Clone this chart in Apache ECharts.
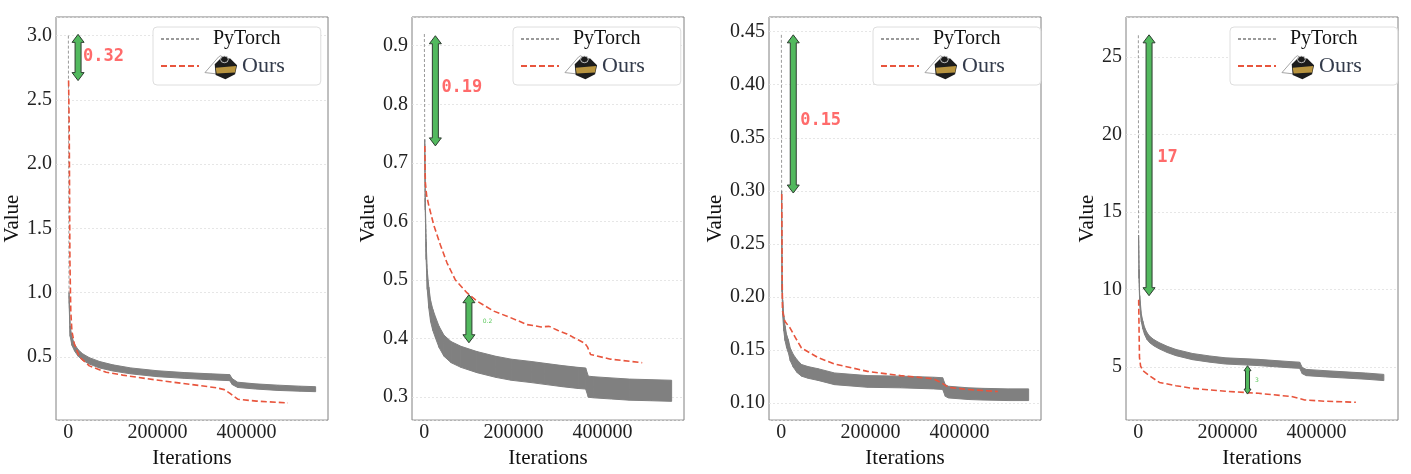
<!DOCTYPE html>
<html>
<head>
<meta charset="utf-8">
<script src="https://cdn.jsdelivr.net/npm/echarts@6/dist/echarts.min.js"></script>
</head>
<body style="margin:0;background:#fff">
<div id="main" style="width:1411px;height:474px"></div>
<script>
// ---- data ----
// panel 1
var p1x  = [0, 1500, 4000, 8000, 14000, 22000, 32000, 47000, 70000, 100000, 140000, 200000, 260000, 320000, 362000, 368000, 380000, 420000, 470000, 520000, 555000];
var p1lo = [3.0, 0.93, 0.66, 0.59, 0.545, 0.505, 0.474, 0.444, 0.414, 0.39, 0.368, 0.346, 0.333, 0.322, 0.315, 0.284, 0.262, 0.25, 0.239, 0.233, 0.229];
var p1hi = [3.0, 1.0, 0.74, 0.655, 0.598, 0.556, 0.524, 0.494, 0.464, 0.438, 0.414, 0.392, 0.378, 0.368, 0.362, 0.33, 0.303, 0.29, 0.28, 0.272, 0.268];
var o1x  = [500, 2000, 3500, 5500, 8000, 13500, 24700, 47000, 85000, 122000, 197000, 272000, 332000, 350000, 362000, 381000, 422000, 493000];
var o1y  = [2.65, 2.25, 1.25, 0.85, 0.70, 0.60, 0.50, 0.43, 0.38, 0.358, 0.32, 0.287, 0.26, 0.245, 0.218, 0.17, 0.156, 0.142];
var a1   = [[21800, 3.01, 2.65]];
var l1   = [[33000, 2.835]];
var t1   = ['0.32'];

// panel 2
var p2x  = [0, 800, 2000, 4000, 6500, 10000, 14000, 19000, 25000, 33000, 44000, 60000, 82000, 118000, 160000, 195000, 240000, 270000, 310000, 345000, 362000, 368000, 380000, 420000, 460000, 510000, 555000];
var p2lo = [0.92, 0.74, 0.62, 0.535, 0.484, 0.452, 0.429, 0.414, 0.401, 0.385, 0.37, 0.359, 0.351, 0.342, 0.334, 0.329, 0.325, 0.322, 0.318, 0.315, 0.314, 0.3, 0.299, 0.297, 0.295, 0.294, 0.293];
var p2hi = [0.92, 0.74, 0.64, 0.565, 0.516, 0.488, 0.465, 0.45, 0.437, 0.421, 0.406, 0.395, 0.387, 0.378, 0.37, 0.365, 0.361, 0.358, 0.354, 0.351, 0.35, 0.336, 0.335, 0.333, 0.331, 0.33, 0.329];
var o2x  = [1000, 2200, 5000, 9700, 21000, 36000, 51000, 69700, 96000, 118400, 155700, 193000, 230800, 262000, 280000, 300000, 320000, 345000, 360000, 366000, 373000, 418000, 489000];
var o2y  = [0.729, 0.667, 0.645, 0.628, 0.594, 0.56, 0.529, 0.5, 0.478, 0.464, 0.447, 0.436, 0.424, 0.42, 0.421, 0.414, 0.408, 0.398, 0.392, 0.386, 0.373, 0.365, 0.359];
var a2   = [[24700, 0.917, 0.729], [100000, 0.475, 0.393]];
var l2   = [[38200, 0.829], [131000, 0.43]];
var t2   = ['0.19', '0.2'];

// panel 3
var p3x  = [0, 600, 1500, 3000, 5500, 8200, 12000, 15500, 20000, 26700, 35000, 45100, 60000, 82200, 119300, 193300, 267400, 341500, 362000, 368000, 374800, 420000, 452600, 510000, 555000];
var p3lo = [0.447, 0.3, 0.205, 0.183, 0.168, 0.159, 0.152, 0.148, 0.14, 0.134, 0.129, 0.1255, 0.1235, 0.1215, 0.1175, 0.115, 0.1145, 0.1135, 0.113, 0.1065, 0.105, 0.1035, 0.103, 0.1025, 0.1025];
var p3hi = [0.447, 0.3, 0.215, 0.197, 0.182, 0.173, 0.164, 0.16, 0.152, 0.146, 0.141, 0.1365, 0.1345, 0.1325, 0.1285, 0.126, 0.1255, 0.1245, 0.124, 0.1175, 0.116, 0.1145, 0.114, 0.1135, 0.1135];
var o3x  = [800, 1500, 2500, 8200, 19300, 34000, 45100, 82200, 119300, 193300, 267400, 341500, 360000, 374800, 415500, 486000];
var o3y  = [0.297, 0.24, 0.187, 0.177, 0.171, 0.16, 0.152, 0.143, 0.137, 0.13, 0.126, 0.123, 0.119, 0.115, 0.113, 0.111];
var a3   = [[26700, 0.447, 0.298]];
var l3   = [[42200, 0.366]];
var t3   = ['0.15'];

// panel 4
var p4x  = [0, 500, 1500, 3000, 6700, 10000, 14000, 19000, 25200, 35000, 47400, 65000, 84400, 121500, 160000, 195600, 269600, 343700, 362000, 368000, 377000, 420000, 455000, 510000, 551000];
var p4lo = [26.4, 13.5, 10.7, 9.0, 7.9, 7.45, 7.08, 6.78, 6.56, 6.35, 6.15, 5.92, 5.72, 5.46, 5.3, 5.18, 5.08, 4.93, 4.9, 4.55, 4.43, 4.35, 4.29, 4.2, 4.11];
var p4hi = [26.4, 13.5, 11.3, 9.6, 8.4, 7.95, 7.54, 7.22, 6.98, 6.75, 6.55, 6.32, 6.12, 5.86, 5.7, 5.58, 5.48, 5.33, 5.3, 4.95, 4.83, 4.75, 4.69, 4.6, 4.51];
var o4x  = [700, 1500, 2500, 5000, 10400, 25200, 47300, 84400, 121500, 195600, 269600, 343700, 373300, 417800, 488200];
var o4y  = [9.33, 7.5, 5.6, 5.05, 4.74, 4.42, 3.99, 3.78, 3.61, 3.42, 3.29, 3.08, 2.86, 2.78, 2.71];
var a4   = [[24000, 26.43, 9.59], [245000, 5.07, 3.24]];
var l4   = [[42200, 18.5], [262000, 4.14]];
var t4   = ['17', '3'];

// axis ranges: [min, max, tick step, decimals]
var yRanges = [[0.008, 3.145, 0.5, 1], [0.261, 0.949, 0.1, 1], [0.0841, 0.4638, 0.05, 2], [1.56, 27.58, 5, 0]];
var xRange = [-27750, 582750, 200000, 0];

// ---- layout / style ----
var SERIF = "'Liberation Serif', 'DejaVu Serif', serif";
var gridLeft = [56, 412, 769, 1126];
var gridWidth = 272;
var nameGaps = [33, 33, 43, 27];
var legendLeft = [153, 513, 873, 1230];
var BIG = [6, 3, 8], SMALL = [3.5, 2, 5];
var arrowSizes = [[BIG], [BIG, BIG], [BIG], [BIG, SMALL]];
var LBIG = { color: '#ff6b6b', font: 'bold 17px "DejaVu Sans Mono"' };
var LSMALL = { color: '#5cc85c', font: '6px "DejaVu Sans"' };
var labelStyles = [[LBIG], [LBIG, LSMALL], [LBIG], [LBIG, LSMALL]];

var panels = [
    { x: p1x, lo: p1lo, hi: p1hi, ox: o1x, oy: o1y, arrows: a1, labels: l1, texts: t1 },
    { x: p2x, lo: p2lo, hi: p2hi, ox: o2x, oy: o2y, arrows: a2, labels: l2, texts: t2 },
    { x: p3x, lo: p3lo, hi: p3hi, ox: o3x, oy: o3y, arrows: a3, labels: l3, texts: t3 },
    { x: p4x, lo: p4lo, hi: p4hi, ox: o4x, oy: o4y, arrows: a4, labels: l4, texts: t4 }
];

var logoSvg = '<svg xmlns="http://www.w3.org/2000/svg" width="36" height="34" viewBox="0 0 36 34">' +
    '<path d="M1 25 L15 6 Q17 3 19 6 L16 27 Z" fill="#fff" stroke="#9a9a9a" stroke-width="1"/>' +
    '<path d="M11 15 L17 8 L27 8 L34 16 L32 27 L22 33 L12 28 Z" fill="#1c1c1c"/>' +
    '<path d="M12 19 L33 17 L32 25 L13 26 Z" fill="#b8943f"/>' +
    '<circle cx="21" cy="9" r="4" fill="#1c1c1c" stroke="#cfcfcf" stroke-width="1"/>' +
    '</svg>';
var logoUrl = 'data:image/svg+xml;charset=utf-8,' + encodeURIComponent(logoSvg);

function zip(xs, ys) {
    return xs.map(function (v, i) { return [v, ys[i]]; });
}

function tickFmt(step, dec) {
    return function (v) {
        var k = v / step;
        return Math.abs(k - Math.round(k)) < 1e-6 ? v.toFixed(dec) : '';
    };
}

// noisy PyTorch band: one quad per segment between consecutive samples
function bandItem(pn) {
    return function (params, api) {
        var i = params.dataIndex + 1;
        if (i >= pn.x.length - 1) return null;
        var a = api.coord([pn.x[i], pn.hi[i]]), b = api.coord([pn.x[i + 1], pn.hi[i + 1]]);
        var c = api.coord([pn.x[i + 1], pn.lo[i + 1]]), d = api.coord([pn.x[i], pn.lo[i]]);
        return {
            type: 'polygon',
            shape: { points: [a, b, c, d] },
            style: { fill: '#808080', stroke: '#808080', lineWidth: 1 }
        };
    };
}

function arrowItem(sizes) {
    return function (params, api) {
        var s = sizes[params.dataIndex];
        var p0 = api.coord([api.value(0), api.value(1)]);
        var p1 = api.coord([api.value(0), api.value(2)]);
        var cx = p0[0], ty = Math.min(p0[1], p1[1]), by = Math.max(p0[1], p1[1]);
        var hw = s[0], sw = s[1], hl = s[2];
        return {
            type: 'polygon',
            shape: {
                points: [[cx, ty], [cx + hw, ty + hl], [cx + sw, ty + hl], [cx + sw, by - hl], [cx + hw, by - hl],
                    [cx, by], [cx - hw, by - hl], [cx - sw, by - hl], [cx - sw, ty + hl], [cx - hw, ty + hl]]
            },
            style: { fill: '#52b95e', stroke: '#2e3d31', lineWidth: 1 }
        };
    };
}

function labelItem(texts, styles) {
    return function (params, api) {
        var p = api.coord([api.value(0), api.value(1)]);
        var st = styles[params.dataIndex];
        return {
            type: 'text',
            x: p[0], y: p[1],
            style: { text: texts[params.dataIndex], fill: st.color, font: st.font, align: 'left', verticalAlign: 'middle' }
        };
    };
}

var grids = [], xAxes = [], yAxes = [], legends = [], series = [];

panels.forEach(function (pn, i) {
    var yr = yRanges[i];
    grids.push({
        left: gridLeft[i], top: 17, width: gridWidth, height: 406,
        show: true, borderColor: '#808080', borderWidth: 1, backgroundColor: '#fff'
    });
    xAxes.push({
        type: 'value', gridIndex: i, min: xRange[0], max: xRange[1],
        minInterval: xRange[2], maxInterval: xRange[2],
        name: 'Iterations', nameLocation: 'middle', nameGap: 20,
        nameTextStyle: { fontFamily: SERIF, fontSize: 21, color: '#111' },
        axisLine: { show: false }, axisTick: { show: false }, splitLine: { show: false },
        axisLabel: { fontFamily: SERIF, fontSize: 20, color: '#222', margin: 3, formatter: tickFmt(xRange[2], xRange[3]) }
    });
    yAxes.push({
        type: 'value', gridIndex: i, min: yr[0], max: yr[1],
        minInterval: yr[2], maxInterval: yr[2],
        name: 'Value', nameLocation: 'middle', nameGap: nameGaps[i],
        nameTextStyle: { fontFamily: SERIF, fontSize: 21, color: '#111' },
        axisLine: { show: false }, axisTick: { show: false },
        splitLine: { show: true, lineStyle: { color: '#e0e0e0', width: 0.8, type: [2, 2] } },
        axisLabel: { fontFamily: SERIF, fontSize: 20, color: '#222', margin: 4, formatter: tickFmt(yr[2], yr[3]) }
    });
    legends.push({
        left: legendLeft[i], top: 27, orient: 'vertical', data: ['PyTorch', 'Ours'],
        itemWidth: 38, itemHeight: 14, itemGap: 3, padding: [2, 36, 5, 7],
        backgroundColor: '#fff', borderColor: '#dedede', borderWidth: 1, borderRadius: 4,
        selectedMode: false,
        itemStyle: { opacity: 0 },
        formatter: function (name) {
            return name === 'Ours' ? '{logo| }{t2|Ours}' : '{pad| }{t1|PyTorch}';
        },
        textStyle: {
            rich: {
                pad: { width: 9, lineHeight: 22, verticalAlign: 'middle' },
                t1: { fontFamily: SERIF, fontSize: 20, color: '#111', lineHeight: 22, verticalAlign: 'middle' },
                logo: { width: 35, height: 28, lineHeight: 28, verticalAlign: 'middle', backgroundColor: { image: logoUrl } },
                t2: { fontFamily: SERIF, fontSize: 22, color: '#333b4b', lineHeight: 28, verticalAlign: 'middle', padding: [0, 0, 0, 3] }
            }
        }
    });

    var mid = pn.lo.map(function (v, k) { return (v + pn.hi[k]) / 2; });

    series.push({
        name: 'PyTorch', type: 'line', xAxisIndex: i, yAxisIndex: i, data: zip(pn.x, mid),
        symbol: 'none', silent: true, z: 2, itemStyle: { color: '#9a9a9a' },
        lineStyle: { color: '#9a9a9a', width: 1, type: [3, 2] }
    });
    series.push({
        type: 'custom', xAxisIndex: i, yAxisIndex: i, data: zip(pn.x.slice(1), mid.slice(1)), silent: true, z: 3,
        encode: { x: 0, y: 1 }, renderItem: bandItem(pn)
    });
    series.push({
        name: 'Ours', type: 'line', xAxisIndex: i, yAxisIndex: i, data: zip(pn.ox, pn.oy),
        symbol: 'none', silent: true, z: 4, itemStyle: { color: '#e8553d' },
        lineStyle: { color: '#e8553d', width: 1.6, type: [6, 3] }
    });
    series.push({
        type: 'custom', xAxisIndex: i, yAxisIndex: i, data: pn.arrows, silent: true, z: 5,
        encode: { x: 0, y: [1, 2] }, renderItem: arrowItem(arrowSizes[i])
    });
    series.push({
        type: 'custom', xAxisIndex: i, yAxisIndex: i, data: pn.labels, silent: true, z: 6,
        encode: { x: 0, y: 1 }, renderItem: labelItem(pn.texts, labelStyles[i])
    });
});

var chart = echarts.init(document.getElementById('main'));
chart.setOption({
    animation: false,
    backgroundColor: '#fff',
    grid: grids,
    xAxis: xAxes,
    yAxis: yAxes,
    legend: legends,
    series: series
});
</script>
</body>
</html>
